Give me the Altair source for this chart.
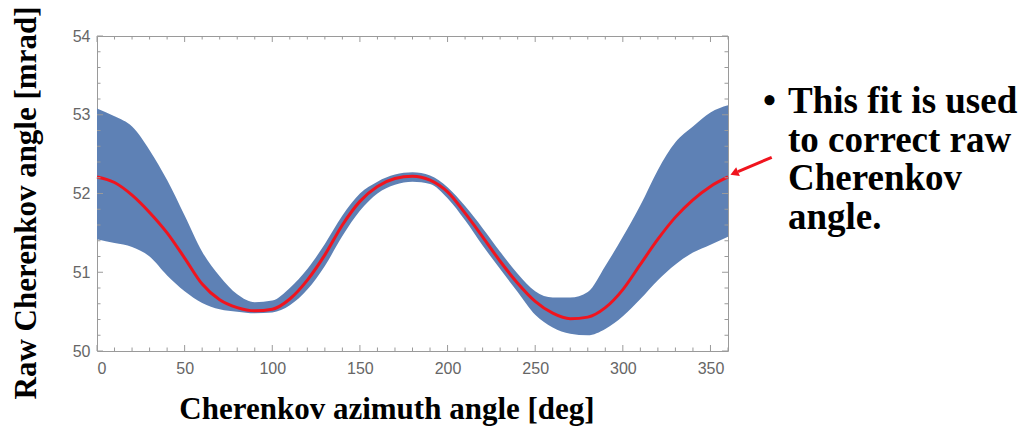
import altair as alt
import pandas as pd

# ---- data ----
deg = [0, 10, 20, 30, 40, 50, 60, 70, 80, 90, 100, 110, 120, 130, 140, 150, 160, 170, 180,
       190, 200, 210, 220, 230, 240, 250, 260, 270, 280, 290, 300, 310, 320, 330, 340, 350, 360]
band_lo = [51.42, 51.37, 51.32, 51.20, 50.96, 50.76, 50.61, 50.53, 50.50, 50.48, 50.49, 50.58,
           50.78, 51.08, 51.46, 51.78, 52.00, 52.11, 52.15, 52.12, 51.94, 51.66, 51.34, 51.04,
           50.75, 50.46, 50.30, 50.22, 50.20, 50.28, 50.44, 50.66, 50.90, 51.10, 51.25, 51.35, 51.45]
band_hi = [53.08, 52.98, 52.85, 52.55, 52.17, 51.72, 51.26, 50.95, 50.72, 50.62, 50.64, 50.80,
           51.04, 51.36, 51.72, 52.00, 52.15, 52.24, 52.27, 52.23, 52.08, 51.84, 51.56, 51.26,
           50.98, 50.76, 50.68, 50.68, 50.75, 51.08, 51.45, 51.85, 52.30, 52.65, 52.85, 53.03, 53.12]
fit_val = [52.21, 52.14, 51.98, 51.76, 51.50, 51.18, 50.85, 50.65, 50.55, 50.51, 50.53, 50.66,
           50.90, 51.22, 51.60, 51.90, 52.09, 52.19, 52.22, 52.17, 52.02, 51.75, 51.45, 51.14,
           50.86, 50.63, 50.48, 50.41, 50.43, 50.55, 50.78, 51.10, 51.42, 51.70, 51.92, 52.09, 52.21]

x_major = [0, 50, 100, 150, 200, 250, 300, 350]
x_minor = [10, 20, 30, 40, 60, 70, 80, 90, 110, 120, 130, 140, 160, 170, 180, 190,
           210, 220, 230, 240, 260, 270, 280, 290, 310, 320, 330, 340, 360]
y_major = [50, 51, 52, 53, 54]
y_minor = [50.2, 50.4, 50.6, 50.8, 51.2, 51.4, 51.6, 51.8, 52.2, 52.4, 52.6, 52.8,
           53.2, 53.4, 53.6, 53.8]

x_title = "Cherenkov azimuth angle [deg]"
y_title = "Raw Cherenkov angle [mrad]"
note_lines = ["This fit is used", "to correct raw", "Cherenkov", "angle."]

BLUE = "#5e81b5"
RED = "#f0141e"
FRAME = "#9a9a9a"
W, H = 631, 315

df = pd.DataFrame({"deg": deg, "lo": band_lo, "hi": band_hi, "fit": fit_val})
xs = alt.Scale(domain=[0, 360], nice=False, zero=False)
ys = alt.Scale(domain=[50, 54], nice=False, zero=False)

x_axis = alt.Axis(values=x_major, ticks=False, domain=False, grid=False,
                  labelFont="Liberation Sans", labelFontSize=16, labelColor="#666666",
                  labelPadding=9, title=x_title, titleFont="Liberation Serif",
                  titleFontWeight="bold", titleFontSize=31, titleColor="black",
                  titleX=289.5, titleY=67, titleBaseline="alphabetic")
y_axis = alt.Axis(values=y_major, ticks=False, domain=False, grid=False,
                  labelFont="Liberation Sans", labelFontSize=16, labelColor="#666666",
                  labelPadding=7, title=y_title, titleFont="Liberation Serif",
                  titleFontWeight="bold", titleFontSize=31, titleColor="black",
                  titleAngle=270, titleX=-62, titleY=166.5, titleBaseline="alphabetic")


def X(field):
    return alt.X(field, scale=xs, axis=x_axis)


def Y(field):
    return alt.Y(field, scale=ys, axis=y_axis)


band = alt.Chart(df).mark_area(color=BLUE, interpolate="monotone").encode(
    x=X("deg:Q"), y=Y("lo:Q"), y2="hi:Q",
)
fit = alt.Chart(df).mark_line(color=RED, strokeWidth=3, interpolate="monotone").encode(
    x=X("deg:Q"), y=Y("fit:Q"),
)

xt_major = pd.DataFrame({"v": x_major})
xt_minor = pd.DataFrame({"v": x_minor})
yt_major = pd.DataFrame({"v": y_major})
yt_minor = pd.DataFrame({"v": y_minor})


def xticks(d, length):
    bot = alt.Chart(d).mark_rule(color=FRAME, strokeWidth=1).encode(
        x=X("v:Q"), y=alt.value(H), y2=alt.value(H - length))
    top = alt.Chart(d).mark_rule(color=FRAME, strokeWidth=1).encode(
        x=X("v:Q"), y=alt.value(0), y2=alt.value(length))
    return [bot, top]


def yticks(d, length):
    left = alt.Chart(d).mark_rule(color=FRAME, strokeWidth=1).encode(
        y=Y("v:Q"), x=alt.value(0), x2=alt.value(length))
    right = alt.Chart(d).mark_rule(color=FRAME, strokeWidth=1).encode(
        y=Y("v:Q"), x=alt.value(W), x2=alt.value(W - length))
    return [left, right]


tick_layers = xticks(xt_major, 6) + xticks(xt_minor, 3.5) + yticks(yt_major, 6) + yticks(yt_minor, 3.5)

one = pd.DataFrame({"a": [0]})
bullet = alt.Chart(one).mark_text(text="•", font="Liberation Serif", fontSize=37,
                                  fontWeight="bold", align="left", baseline="alphabetic",
                                  color="black").encode(x=alt.value(666), y=alt.value(77))
note = alt.Chart(one).mark_text(text=note_lines, font="Liberation Serif", fontSize=37,
                                fontWeight="bold", align="left", baseline="alphabetic",
                                lineHeight=38.7, color="black").encode(
    x=alt.value(691), y=alt.value(77))
arrow_line = alt.Chart(one).mark_rule(color=RED, strokeWidth=3).encode(
    x=alt.value(674.7), y=alt.value(121.3), x2=alt.value(641), y2=alt.value(135.6))
arrow_head = alt.Chart(one).mark_point(shape="triangle", filled=True, size=90, angle=247,
                                       color=RED, opacity=1, strokeWidth=0).encode(
    x=alt.value(638.5), y=alt.value(136.7))

chart = alt.layer(band, fit, *tick_layers, arrow_line, arrow_head, bullet, note).properties(
    width=W, height=H,
    autosize=alt.AutoSizeParams(type="none"),
    padding={"left": 97, "top": 36, "right": 295, "bottom": 81},
    background="white",
).configure_view(stroke=FRAME, strokeWidth=1)

chart.save("out.html", embed_options={"renderer": "svg", "actions": False})
